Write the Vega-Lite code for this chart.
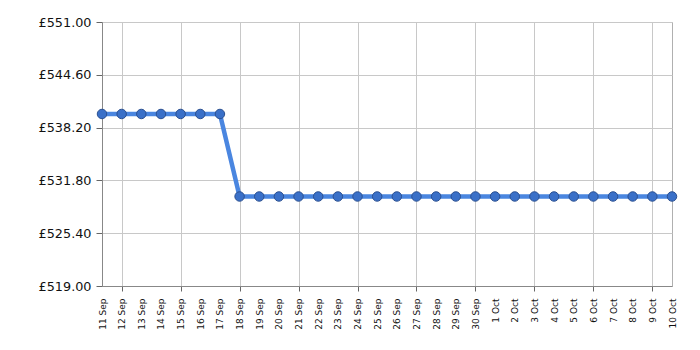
{
  "$schema": "https://vega.github.io/schema/vega-lite/v6.json",
  "autosize": "none",
  "width": 570,
  "height": 264,
  "padding": {"left": 102, "top": 22, "right": 28, "bottom": 64},
  "background": "white",
  "config": {
    "view": {"stroke": "#b0b0b0", "strokeWidth": 1},
    "font": "DejaVu Sans"
  },
  "data": {
    "values": [
      {"date": "11 Sep", "price": 539.85},
      {"date": "12 Sep", "price": 539.85},
      {"date": "13 Sep", "price": 539.85},
      {"date": "14 Sep", "price": 539.85},
      {"date": "15 Sep", "price": 539.85},
      {"date": "16 Sep", "price": 539.85},
      {"date": "17 Sep", "price": 539.85},
      {"date": "18 Sep", "price": 529.85},
      {"date": "19 Sep", "price": 529.85},
      {"date": "20 Sep", "price": 529.85},
      {"date": "21 Sep", "price": 529.85},
      {"date": "22 Sep", "price": 529.85},
      {"date": "23 Sep", "price": 529.85},
      {"date": "24 Sep", "price": 529.85},
      {"date": "25 Sep", "price": 529.85},
      {"date": "26 Sep", "price": 529.85},
      {"date": "27 Sep", "price": 529.85},
      {"date": "28 Sep", "price": 529.85},
      {"date": "29 Sep", "price": 529.85},
      {"date": "30 Sep", "price": 529.85},
      {"date": "1 Oct", "price": 529.85},
      {"date": "2 Oct", "price": 529.85},
      {"date": "3 Oct", "price": 529.85},
      {"date": "4 Oct", "price": 529.85},
      {"date": "5 Oct", "price": 529.85},
      {"date": "6 Oct", "price": 529.85},
      {"date": "7 Oct", "price": 529.85},
      {"date": "8 Oct", "price": 529.85},
      {"date": "9 Oct", "price": 529.85},
      {"date": "10 Oct", "price": 529.85}
    ]
  },
  "encoding": {
    "x": {
      "field": "date",
      "type": "ordinal",
      "sort": null,
      "scale": {"type": "point", "padding": 0},
      "axis": {
        "title": null,
        "labelAngle": -90,
        "labelAlign": "right",
        "labelBaseline": "middle",
        "labelFontSize": 9,
        "labelColor": "#111",
        "labelPadding": 7,
        "tickSize": 5,
        "domainColor": "#888",
        "tickColor": "#666",
        "gridColor": "#c8c8c8",
        "grid": true,
        "gridOpacity": {"condition": {"test": "indexof(['12 Sep','15 Sep','18 Sep','21 Sep','24 Sep','27 Sep','30 Sep','3 Oct','6 Oct','9 Oct'], datum.value) >= 0", "value": 1}, "value": 0},
        "tickOpacity": {"condition": {"test": "indexof(['12 Sep','15 Sep','18 Sep','21 Sep','24 Sep','27 Sep','30 Sep','3 Oct','6 Oct','9 Oct'], datum.value) >= 0", "value": 1}, "value": 0},
        "labelOverlap": false
      }
    },
    "y": {
      "field": "price",
      "type": "quantitative",
      "scale": {"domain": [519, 551], "nice": false, "zero": false},
      "axis": {
        "title": null,
        "values": [519, 525.4, 531.8, 538.2, 544.6, 551],
        "labelExpr": "'£' + format(datum.value, '.2f')",
        "labelFontSize": 12.8,
        "labelColor": "#111",
        "labelPadding": 5,
        "tickSize": 6,
        "domainColor": "#888",
        "tickColor": "#666",
        "gridColor": "#c8c8c8",
        "grid": true
      }
    }
  },
  "layer": [
    {"mark": {"type": "line", "color": "#4a86e0", "strokeWidth": 4.5}},
    {"mark": {"type": "point", "shape": "circle", "filled": true, "size": 90, "fill": "#3a70c8", "stroke": "#2a4f90", "strokeWidth": 1, "opacity": 1}}
  ]
}
